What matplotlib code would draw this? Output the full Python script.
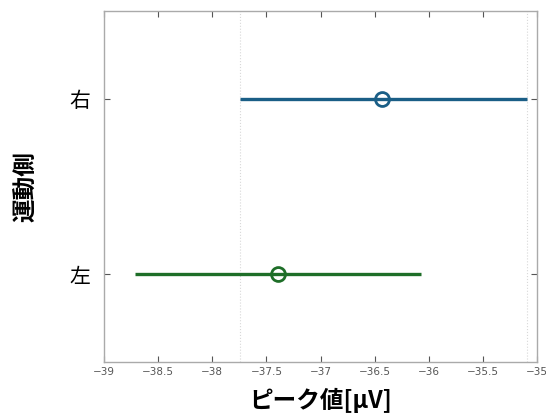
import matplotlib.pyplot as plt

plt.rcParams['font.family'] = ['Noto Sans CJK JP', 'DejaVu Sans']

# peak values per side (mean and interval ends), in microvolts
sides = ['左', '右']
means = [-37.39, -36.43]
lows = [-38.71, -37.74]
highs = [-36.07, -35.09]
colors = ['#1e6e28', '#1a5e86']

# dotted reference lines at the ends of the right-side interval
ref_lines = [-37.74, -35.09]

xticks = [-39, -38.5, -38, -37.5, -37, -36.5, -36, -35.5, -35]

fig = plt.figure(figsize=(5.46, 4.19), dpi=100)
ax = fig.add_axes([0.1905, 0.136, 0.793, 0.838])

for xv in ref_lines:
    ax.axvline(xv, color='#d8d8d8', lw=0.8, ls=':', zorder=1)

for i, (m, lo, hi, c) in enumerate(zip(means, lows, highs, colors)):
    y = i + 1
    ax.plot([lo, hi], [y, y], color=c, lw=2.4, solid_capstyle='butt', zorder=2)
    ax.plot(m, y, 'o', ms=10, mfc='none', mec=c, mew=2.0, zorder=3)

ax.set_xlim(-39, -35)
ax.set_ylim(0.5, 2.5)
ax.set_xticks(xticks)
ax.set_xticklabels([f'{t:g}'.replace('-', '\u2212') for t in xticks],
                   fontsize=7.5, color='#555555', family='DejaVu Sans')
ax.set_yticks([1, 2])
ax.set_yticklabels(sides, fontsize=15)

ax.tick_params(axis='both', direction='in', length=4, width=0.8,
               color='#555555', top=True, right=True)
ax.tick_params(axis='y', pad=10)
for s in ax.spines.values():
    s.set_color('#aaaaaa')
    s.set_linewidth(1.0)

ax.set_xlabel('ピーク値[μV]', fontsize=17, fontweight='bold', labelpad=8)
ax.set_ylabel('運動側', fontsize=17, fontweight='bold', labelpad=22)

fig.savefig('out.png', dpi=100)
